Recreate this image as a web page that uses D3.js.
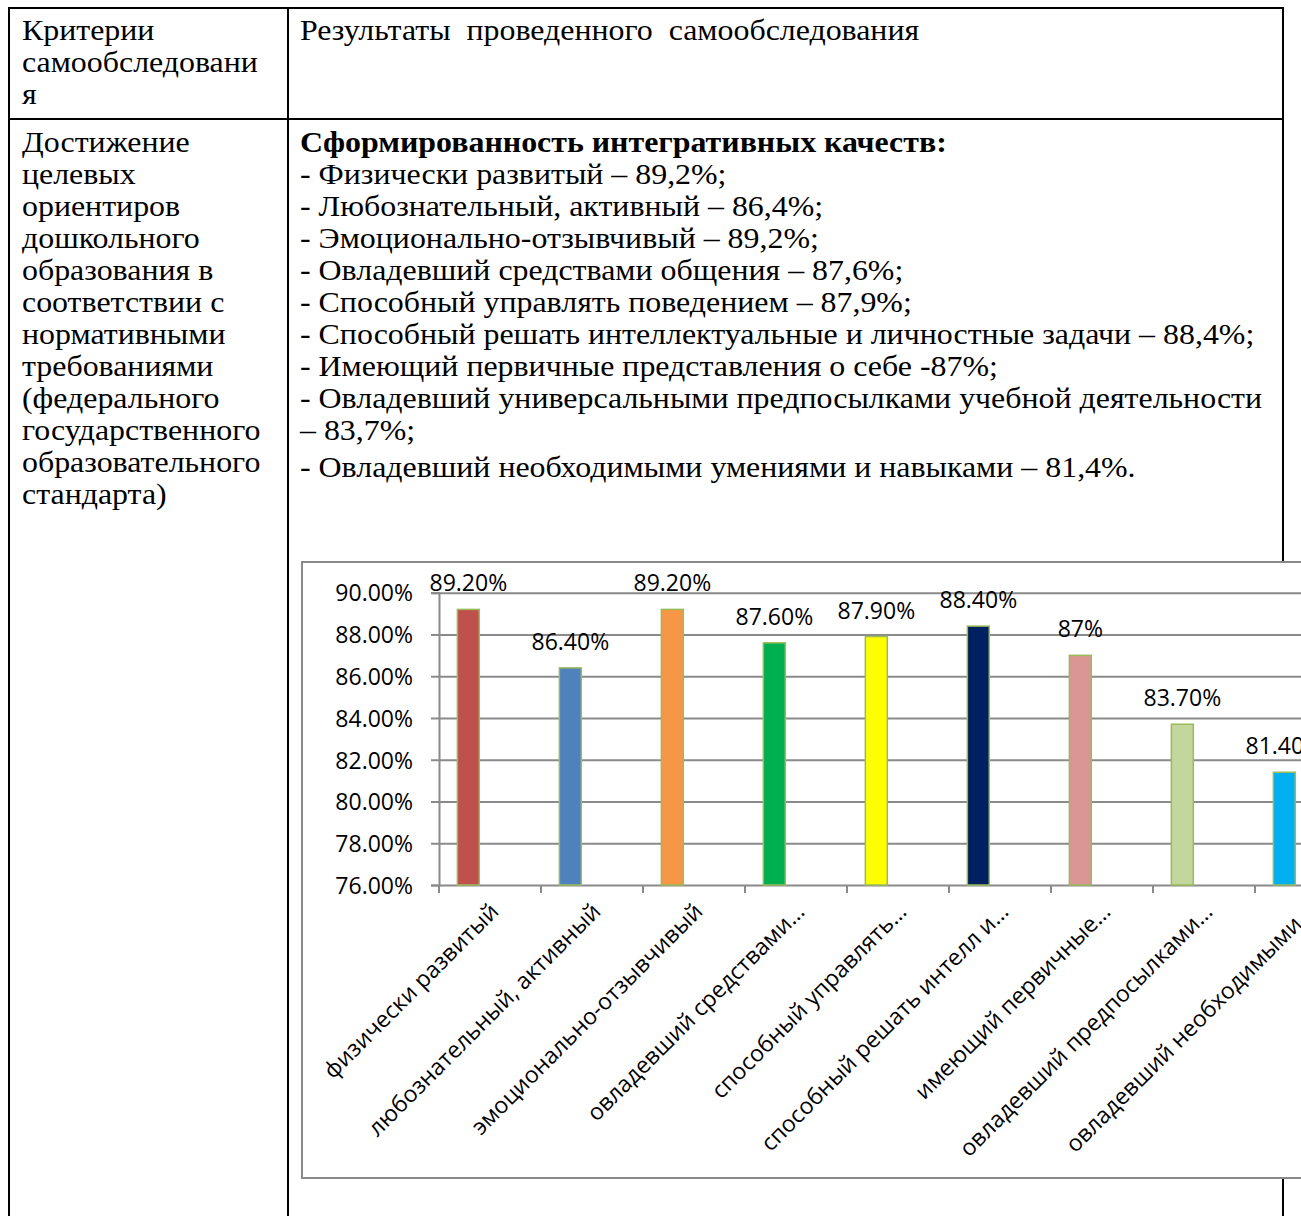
<!DOCTYPE html>
<html>
<head>
<meta charset="utf-8">
<script src="https://cdn.jsdelivr.net/npm/d3@7"></script>
<style>
  html, body { margin: 0; padding: 0; background: #ffffff; overflow: hidden; }
  svg { display: block; }
</style>
</head>
<body>
<svg id="page" width="1301" height="1216"></svg>
<script>
// ---------- DATA ----------
const headerLeft = ["Критерии", "самообследовани", "я"];
const headerRight = ["Результаты  проведенного  самообследования"];
const leftColumn = ["Достижение", "целевых", "ориентиров", "дошкольного", "образования в",
  "соответствии с", "нормативными", "требованиями", "(федерального",
  "государственного", "образовательного", "стандарта)"];
const listTitle = "Сформированность интегративных качеств:";
const listLines = [
  "- Физически развитый – 89,2%;",
  "- Любознательный, активный – 86,4%;",
  "- Эмоционально-отзывчивый – 89,2%;",
  "- Овладевший средствами общения – 87,6%;",
  "- Способный управлять поведением – 87,9%;",
  "- Способный решать интеллектуальные и личностные задачи – 88,4%;",
  "- Имеющий первичные представления о себе -87%;",
  "- Овладевший универсальными предпосылками учебной деятельности",
  "– 83,7%;"
];
const listLast = "- Овладевший необходимыми умениями и навыками – 81,4%.";

const categories = ["физически развитый", "любознательный, активный", "эмоционально-отзывчивый",
  "овладевший средствами…", "способный управлять…", "способный решать интелл и…",
  "имеющий первичные…", "овладевший предпосылками…", "овладевший необходимыми…"];
const values = [89.2, 86.4, 89.2, 87.6, 87.9, 88.4, 87, 83.7, 81.4];
const valueLabels = ["89.20%", "86.40%", "89.20%", "87.60%", "87.90%", "88.40%", "87%", "83.70%", "81.40%"];
const barColors = ["#C0504D", "#4F81BD", "#F79646", "#00B050", "#FFFF00", "#002060", "#D99694", "#C3D69B", "#00B0F0"];
const yTicks = [76, 78, 80, 82, 84, 86, 88, 90];
const yTickLabels = ["76.00%", "78.00%", "80.00%", "82.00%", "84.00%", "86.00%", "88.00%", "90.00%"];

// ---------- PAGE / TABLE ----------
const svg = d3.select("#page");
const serif = "'Liberation Serif', 'Times New Roman', serif";
const sans = "'Open Sans', 'Noto Sans', sans-serif";
const serifSize = 29, serifStretch = 1.1, lineH = 32;

const T = { left: 9, right: 1283, top: 8, mid: 288, head: 119, bottom: 1230 };
const tbl = svg.append("g").attr("stroke", "#000").attr("stroke-width", 2);
tbl.append("line").attr("x1", T.left - 1).attr("x2", T.right + 1).attr("y1", T.top).attr("y2", T.top);
tbl.append("line").attr("x1", T.left - 1).attr("x2", T.right + 1).attr("y1", T.head).attr("y2", T.head);
tbl.append("line").attr("x1", T.left).attr("x2", T.left).attr("y1", T.top).attr("y2", T.bottom);
tbl.append("line").attr("x1", T.mid).attr("x2", T.mid).attr("y1", T.top).attr("y2", T.bottom);
tbl.append("line").attr("x1", T.right).attr("x2", T.right).attr("y1", T.top).attr("y2", T.bottom);

function textBlock(lines, x, y0, opts = {}) {
  svg.append("g").selectAll("text").data(lines).join("text")
    .attr("transform", (d, i) => `translate(${x},${y0 + i * lineH}) scale(${serifStretch},1)`)
    .attr("font-family", serif).attr("font-size", opts.size || serifSize)
    .attr("font-weight", opts.weight || "normal")
    .attr("fill", "#000").style("white-space", "pre")
    .text(d => d);
}
textBlock(headerLeft, 22, 40);
textBlock(headerRight, 300, 40);
textBlock(leftColumn, 22, 152);
textBlock([listTitle], 300, 152, { weight: "bold" });
textBlock(listLines, 300, 184);
textBlock([listLast], 300, 477);

// ---------- CHART ----------
const box = { x: 302, y: 562, w: 1120, h: 616 };
const chart = svg.append("g");
chart.append("rect").attr("x", box.x).attr("y", box.y).attr("width", box.w).attr("height", box.h)
  .attr("fill", "#fff").attr("stroke", "#898989").attr("stroke-width", 2);

const plot = { left: 439, top: 592.7, bottom: 885 };
const x = d3.scaleBand().domain(categories).range([plot.left, plot.left + 102 * categories.length]);
const y = d3.scaleLinear().domain([76, 90]).range([plot.bottom, plot.top]);
const bw = x.bandwidth();
const gridColor = "#8a8a8a";

// gridlines + y ticks
const yAxis = d3.axisLeft(y).tickValues(yTicks).tickSize(8).tickFormat((d, i) => yTickLabels[i]);
const yg = chart.append("g").attr("transform", `translate(${plot.left},0)`).call(yAxis);
yg.select(".domain").attr("stroke", gridColor).attr("stroke-width", 2);
yg.selectAll(".tick line").attr("stroke", gridColor).attr("stroke-width", 2);
yg.selectAll(".tick text").attr("font-family", sans).attr("font-size", 23).attr("fill", "#000")
  .attr("x", -26).attr("dy", "0.36em");

const grid = d3.axisLeft(y).tickValues(yTicks).tickSize(-1000).tickFormat("");
const gg = chart.append("g").attr("transform", `translate(${plot.left},0)`).call(grid);
gg.select(".domain").remove();
gg.selectAll(".tick line").attr("stroke", gridColor).attr("stroke-width", 2);

// x-axis ticks at band edges
const edges = categories.map(c => x(c)).concat([x(categories[categories.length - 1]) + bw]);
chart.append("g").selectAll("line").data(edges).join("line")
  .attr("x1", d => d).attr("x2", d => d).attr("y1", plot.bottom).attr("y2", plot.bottom + 8)
  .attr("stroke", gridColor).attr("stroke-width", 2);

// bars
const barOff = bw * 0.18, barW = bw * 0.215;
chart.append("g").selectAll("rect").data(categories).join("rect")
  .attr("x", d => x(d) + barOff)
  .attr("width", barW)
  .attr("y", (d, i) => y(values[i]))
  .attr("height", (d, i) => y(76) - y(values[i]))
  .attr("fill", (d, i) => barColors[i])
  .attr("stroke", "#9BBB59").attr("stroke-width", 1.5);

// value labels
chart.append("g").selectAll("text").data(categories).join("text")
  .attr("x", d => x(d) + barOff + barW / 2)
  .attr("y", (d, i) => y(values[i]) - 18)
  .attr("text-anchor", "middle")
  .attr("font-family", sans).attr("font-size", 23).attr("fill", "#000")
  .text((d, i) => valueLabels[i]);

// category labels (rotated)
chart.append("g").selectAll("text").data(categories).join("text")
  .attr("transform", d => `translate(${x(d) + bw / 2 + 10},${plot.bottom + 28}) rotate(-45)`)
  .attr("text-anchor", "end")
  .attr("font-family", sans).attr("font-size", 23).attr("fill", "#000")
  .text(d => d);
</script>
</body>
</html>
